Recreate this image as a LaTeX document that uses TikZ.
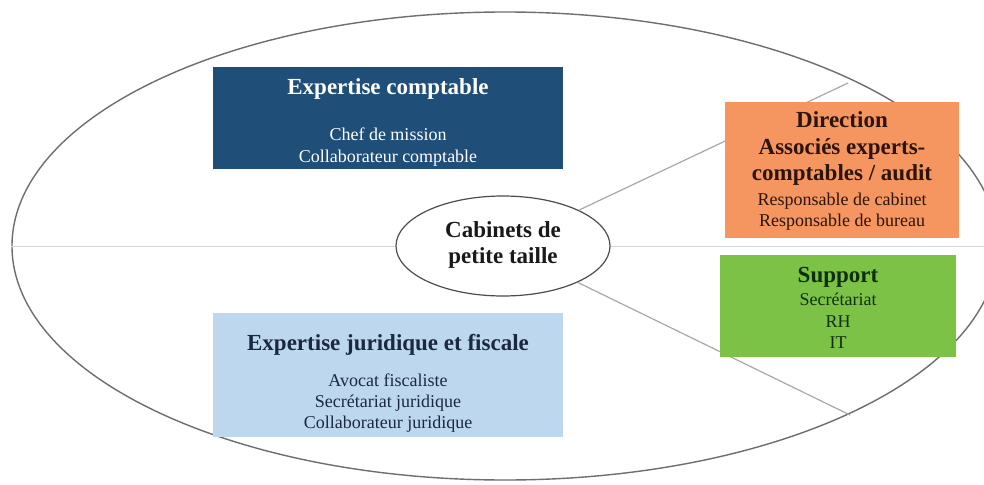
\documentclass[tikz,border=0pt]{standalone}
\usepackage{fontspec}
\setmainfont{Liberation Serif}
\usetikzlibrary{shapes.geometric}

\definecolor{navybox}{HTML}{1F4E79}
\definecolor{orangebox}{HTML}{F5955F}
\definecolor{greenbox}{HTML}{7CC246}
\definecolor{skybox}{HTML}{BDD7EE}
\definecolor{ringgray}{HTML}{6E6E6E}
\definecolor{spokegray}{HTML}{A8A8A8}
\definecolor{axisgray}{HTML}{D4D4D4}

% body text 18, headings 23; baselines are set only by the \\[..] gaps
\newcommand\bodyfont{\fontsize{18}{0}\selectfont\lineskiplimit=-1000pt\lineskip=0pt}
\newcommand\hdfont{\fontsize{23}{0}\selectfont\bfseries}

\begin{document}
\begin{tikzpicture}[x=1pt,y=-1pt,
  outerring/.style={ellipse, draw=ringgray, line width=1.4pt, inner sep=0pt,
    minimum width=986, minimum height=468},
  hubstyle/.style={ellipse, draw=black!70, line width=1.2pt, fill=white,
    inner sep=0pt, minimum width=214, minimum height=100, align=center,
    font=\bodyfont, text=black!90, text depth=0pt},
  spoke/.style={draw=spokegray, line width=1.2pt},
  axis/.style={draw=axisgray, line width=1pt},
  box/.style={rectangle, inner sep=0pt, align=center, font=\bodyfont,
    text depth=0pt}]

\useasboundingbox[fill=white] (0,0) rectangle (984,484);

% outer field and central hub
\node[outerring] (outer) at (505,246) {};
\node[hubstyle, text height=34] (hub) at (503,246)
  {{\hdfont Cabinets de}\\[26pt]{\hdfont petite taille}};

% dividing lines
\coordinate (ur) at (848,83);
\coordinate (lr) at (850,415);
\draw[axis] (outer.west) -- (hub.west);
\draw[axis] (hub.east) -- (outer.east);
\draw[spoke] (hub) -- (ur);
\draw[spoke] (hub) -- (lr);

% the four activity boxes
\node[box, fill=navybox, text=white, minimum width=350, minimum height=102,
  text height=88] (acct) at (388,118)
  {{\hdfont Expertise comptable}\\[46pt]Chef de mission\\[22pt]Collaborateur comptable};

\node[box, fill=skybox, text={rgb,255:red,27;green,41;blue,64}, minimum width=350,
  minimum height=124, text height=106] (legal) at (388,375)
  {{\hdfont Expertise juridique et fiscale}\\[36pt]Avocat fiscaliste\\[21pt]Secrétariat juridique\\[21pt]Collaborateur juridique};

\node[box, fill=orangebox, text={rgb,255:red,43;green,20;blue,9}, minimum width=234,
  minimum height=136, text height=112] (dir) at (842,170)
  {{\hdfont Direction}\\[27pt]{\hdfont Associés experts-}\\[26pt]{\hdfont comptables / audit}\\[25pt]Responsable de cabinet\\[21pt]Responsable de bureau};

\node[box, fill=greenbox, text={rgb,255:red,15;green,47;blue,10}, minimum width=236,
  minimum height=102, text height=84] (supp) at (838,306)
  {{\hdfont Support}\\[23pt]Secrétariat\\[22pt]RH\\[21pt]IT};

\end{tikzpicture}
\end{document}
